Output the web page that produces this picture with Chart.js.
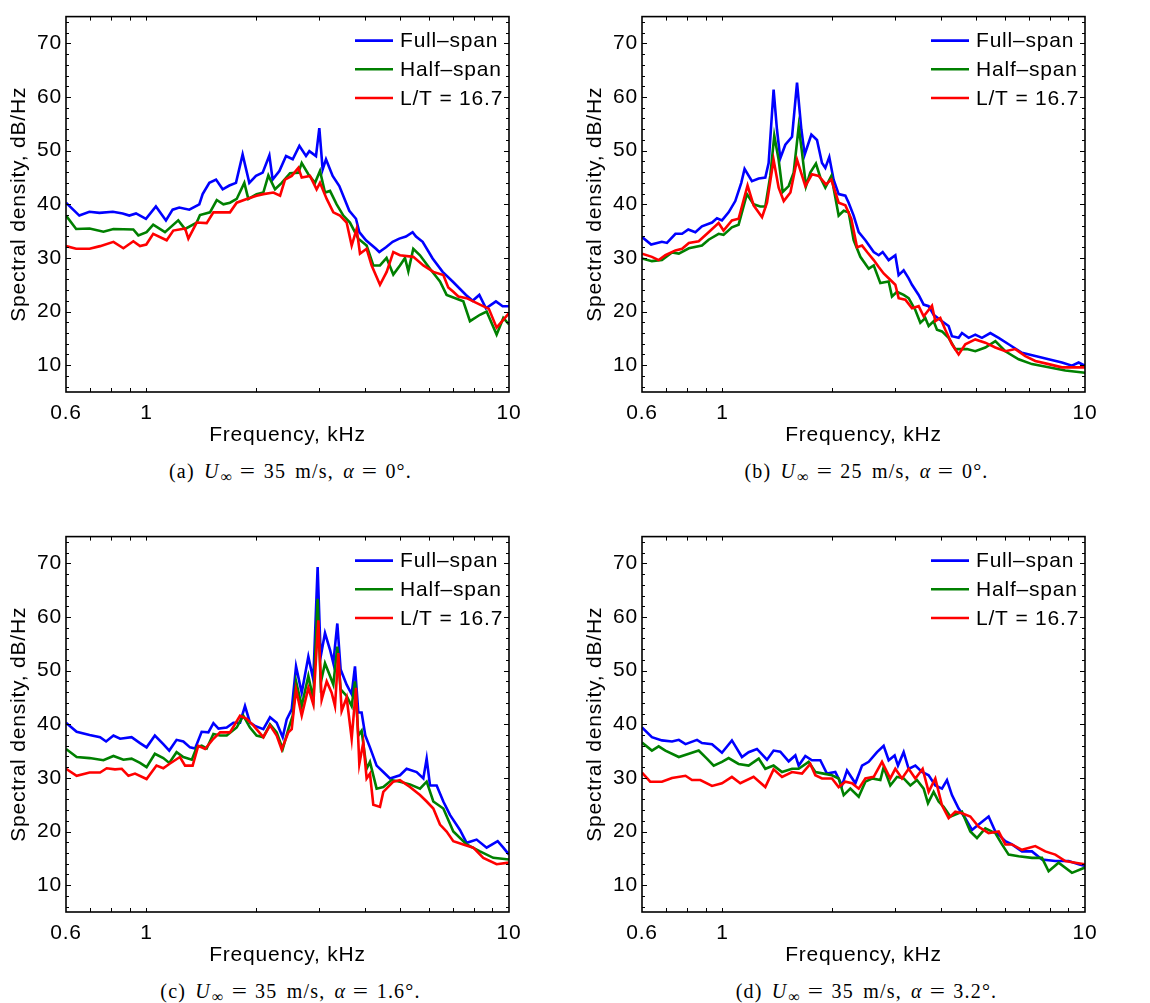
<!DOCTYPE html>
<html>
<head>
<meta charset="utf-8">
<script src="https://cdn.jsdelivr.net/npm/chart.js@4.4.1/dist/chart.umd.min.js"></script>
<style>
    body { margin: 0; background: #fff; width: 1150px; height: 1003px; position: relative; overflow: hidden; }
    canvas { position: absolute; }
    .cap { position: absolute; width: 443px; text-align: center; font: 20px "Liberation Serif", serif; line-height: 24px; color: #000; white-space: nowrap; letter-spacing: 1.2px; word-spacing: 3px; }
    .cap sub { font-size: 16px; line-height: 0; vertical-align: -4px; margin-left: 1px; }
    .cap .eq { margin: 0 9px; display: inline-block; transform: scaleX(1.35); }
</style>
</head>
<body>
<canvas id="panelA" width="575" height="455" style="left:0;top:0"></canvas>
<canvas id="panelB" width="575" height="455" style="left:576px;top:0"></canvas>
<canvas id="panelC" width="575" height="455" style="left:0;top:520px"></canvas>
<canvas id="panelD" width="575" height="455" style="left:576px;top:520px"></canvas>
<div class="cap" style="left:69px;top:459px">(a) <i>U</i><sub>∞</sub><span class="eq">=</span>35 m/s, <i>α</i><span class="eq">=</span>0°.</div>
<div class="cap" style="left:645px;top:459px">(b) <i>U</i><sub>∞</sub><span class="eq">=</span>25 m/s, <i>α</i><span class="eq">=</span>0°.</div>
<div class="cap" style="left:69px;top:979px">(c) <i>U</i><sub>∞</sub><span class="eq">=</span>35 m/s, <i>α</i><span class="eq">=</span>1.6°.</div>
<div class="cap" style="left:645px;top:979px">(d) <i>U</i><sub>∞</sub><span class="eq">=</span>35 m/s, <i>α</i><span class="eq">=</span>3.2°.</div>
<script>
const seriesNames = ["Full–span", "Half–span", "L/T = 16.7"];
const freqTickLabels = [0.6, 1, 10];
const freqMarks = [0.7, 0.8, 0.9, 1, 2, 3, 4, 5, 6, 7, 8, 9];
const dbTickLabels = [10, 20, 30, 40, 50, 60, 70];

// [frequency kHz, spectral density dB/Hz]
// (a) U = 35 m/s, alpha = 0
const fullA = [[0.6,40.3],[0.653,37.9],[0.696,38.6],[0.742,38.4],[0.808,38.6],[0.86,38.3],[0.897,37.9],[0.936,38.3],[0.997,37.3],[1.062,39.6],[1.132,37.0],[1.181,39.0],[1.232,39.4],[1.313,39.0],[1.399,40.0],[1.429,41.9],[1.491,44.0],[1.556,44.6],[1.623,42.8],[1.693,43.5],[1.766,44.0],[1.842,49.3],[1.922,44.0],[2.005,45.3],[2.092,45.9],[2.183,49.1],[2.229,44.6],[2.326,46.2],[2.427,49.0],[2.532,48.4],[2.641,50.9],[2.755,49.0],[2.814,49.9],[2.935,49.0],[2.998,54.2],[3.062,46.5],[3.128,48.4],[3.263,45.3],[3.404,43.4],[3.627,38.8],[3.784,37.3],[3.865,34.8],[4.032,33.3],[4.296,31.7],[4.388,31.1],[4.578,32.0],[4.776,33.0],[4.982,33.6],[5.197,34.0],[5.422,34.8],[5.54,34.0],[5.779,33.0],[6.157,29.9],[6.561,27.4],[6.991,25.6],[7.609,23.1],[7.937,22.0],[8.281,23.1],[8.639,20.6],[9.205,21.9],[9.604,21.0],[10,21.0]];
const halfA = [[0.6,37.9],[0.64,35.4],[0.697,35.5],[0.761,34.9],[0.811,35.4],[0.92,35.3],[0.95,34.2],[1.001,34.8],[1.044,36.2],[1.125,34.8],[1.224,37.0],[1.278,35.4],[1.376,36.6],[1.405,38.0],[1.497,38.5],[1.563,40.8],[1.63,40.0],[1.7,40.3],[1.774,41.0],[1.862,44.0],[1.91,41.0],[2.013,41.9],[2.101,42.2],[2.169,45.4],[2.263,42.8],[2.361,44.0],[2.489,45.8],[2.624,45.9],[2.681,47.7],[2.796,45.6],[2.917,44.0],[3.011,46.2],[3.108,42.2],[3.209,42.5],[3.347,40.0],[3.492,37.9],[3.642,36.6],[3.841,33.6],[4.049,32.3],[4.224,28.6],[4.407,28.6],[4.595,30.0],[4.796,26.9],[5.003,28.6],[5.165,30.0],[5.276,27.5],[5.445,31.7],[5.682,30.5],[6.055,28.0],[6.451,25.6],[6.729,23.1],[7.481,21.9],[7.804,18.2],[8.316,19.4],[8.676,20.0],[9.244,15.7],[9.645,18.8],[10,17.6]];
const ltA = [[0.6,32.2],[0.64,31.7],[0.697,31.7],[0.745,32.2],[0.811,33.0],[0.864,31.8],[0.92,33.1],[0.96,32.2],[0.999,32.5],[1.044,34.5],[1.137,33.3],[1.186,35.1],[1.278,35.5],[1.305,33.6],[1.376,36.6],[1.466,36.5],[1.53,38.5],[1.596,38.5],[1.7,38.5],[1.774,40.3],[1.89,41.0],[2.013,41.6],[2.101,41.9],[2.239,42.2],[2.337,41.6],[2.411,44.6],[2.516,45.3],[2.624,46.8],[2.681,45.0],[2.826,45.3],[2.947,42.8],[3.011,44.0],[3.142,41.0],[3.277,38.5],[3.419,37.9],[3.566,36.6],[3.682,32.3],[3.8,35.4],[3.882,30.8],[4.049,31.7],[4.18,28.6],[4.407,25.0],[4.598,27.4],[4.796,31.1],[5.003,30.5],[5.445,30.2],[5.804,28.6],[6.184,27.4],[6.59,26.8],[6.8,24.5],[7.021,23.7],[7.25,22.8],[7.641,22.5],[8.316,21.3],[8.8,20.5],[9.244,17.0],[10,19.7]];

// (b) U = 25 m/s, alpha = 0
const fullB = [[0.6,33.9],[0.636,32.5],[0.681,33.0],[0.703,32.8],[0.742,34.5],[0.774,34.5],[0.805,35.3],[0.842,34.8],[0.878,35.9],[0.936,36.6],[0.966,37.4],[0.997,37.0],[1.04,38.5],[1.085,40.6],[1.127,44.0],[1.151,46.6],[1.206,44.3],[1.259,44.8],[1.313,45.0],[1.341,47.7],[1.384,61.4],[1.414,53.9],[1.444,48.6],[1.491,51.1],[1.556,52.6],[1.606,62.7],[1.651,53.9],[1.686,49.3],[1.759,53.0],[1.823,52.0],[1.882,47.7],[1.922,46.8],[1.971,48.8],[2.026,44.6],[2.092,41.9],[2.183,41.6],[2.229,40.3],[2.301,37.9],[2.376,34.8],[2.479,33.3],[2.614,31.1],[2.698,30.5],[2.767,31.1],[2.874,29.6],[2.998,30.5],[3.062,26.8],[3.161,27.7],[3.263,26.2],[3.333,25.0],[3.477,23.1],[3.589,21.3],[3.705,21.0],[3.824,19.4],[4.032,18.2],[4.206,17.3],[4.296,15.4],[4.482,15.1],[4.578,16.0],[4.776,15.1],[4.982,15.7],[5.197,15.1],[5.481,16.0],[5.779,15.1],[6.157,13.9],[6.701,12.3],[7.293,11.7],[7.937,11.1],[8.639,10.5],[9.205,9.9],[9.604,10.5],[10,9.9]];
const halfB = [[0.6,29.9],[0.639,29.4],[0.681,29.6],[0.726,31.0],[0.758,30.8],[0.808,31.8],[0.878,32.3],[0.916,33.4],[0.976,34.5],[1.007,34.3],[1.062,35.7],[1.108,36.2],[1.168,41.9],[1.219,40.0],[1.272,39.6],[1.313,39.6],[1.355,45.3],[1.39,52.8],[1.429,48.3],[1.466,42.3],[1.523,43.4],[1.572,45.9],[1.623,54.5],[1.658,49.6],[1.7,43.4],[1.747,45.9],[1.811,47.6],[1.862,45.0],[1.922,43.1],[1.997,45.3],[2.092,37.9],[2.16,38.8],[2.229,38.5],[2.301,33.3],[2.401,30.2],[2.532,28.0],[2.614,28.6],[2.726,25.3],[2.874,25.6],[2.935,22.8],[3.03,23.7],[3.161,23.1],[3.263,22.5],[3.404,20.3],[3.514,17.9],[3.627,18.8],[3.705,17.3],[3.824,18.2],[3.906,16.6],[4.032,16.3],[4.206,15.1],[4.388,13.0],[4.726,13.0],[4.982,12.6],[5.309,13.3],[5.658,14.5],[6.029,12.6],[6.561,11.1],[7.14,10.2],[7.937,9.6],[8.823,9.0],[10,8.6]];
const ltB = [[0.6,30.8],[0.639,30.2],[0.667,29.6],[0.696,30.5],[0.742,31.4],[0.774,31.7],[0.808,32.8],[0.86,33.1],[0.916,34.8],[0.976,36.5],[1.007,35.1],[1.062,37.0],[1.108,37.3],[1.173,43.5],[1.219,39.8],[1.286,37.6],[1.327,40.3],[1.384,48.3],[1.429,43.1],[1.476,40.6],[1.54,42.2],[1.606,48.3],[1.693,43.4],[1.766,45.6],[1.842,45.3],[1.93,43.7],[1.997,44.6],[2.092,40.3],[2.183,39.8],[2.267,37.3],[2.351,32.0],[2.427,32.3],[2.506,31.1],[2.614,29.6],[2.698,28.3],[2.784,27.1],[2.874,26.2],[2.998,25.0],[3.062,22.5],[3.195,22.2],[3.333,20.6],[3.477,21.0],[3.589,19.1],[3.784,21.1],[3.865,18.2],[3.989,18.8],[4.118,16.6],[4.296,13.9],[4.482,12.0],[4.676,13.9],[4.982,14.8],[5.309,14.2],[5.658,13.3],[6.029,12.6],[6.424,13.0],[6.845,11.7],[7.293,10.8],[7.937,10.2],[8.639,9.6],[9.403,9.6],[10,9.6]];

// (c) U = 35 m/s, alpha = 1.6
const fullC = [[0.6,40.3],[0.642,38.6],[0.697,38.0],[0.745,37.6],[0.774,36.8],[0.811,37.9],[0.846,37.3],[0.91,37.6],[0.96,36.5],[1.001,35.7],[1.055,37.9],[1.113,36.3],[1.156,35.1],[1.211,37.1],[1.264,36.8],[1.319,35.7],[1.362,35.5],[1.42,38.6],[1.482,38.5],[1.53,40.2],[1.58,39.2],[1.665,39.4],[1.737,40.3],[1.812,40.3],[1.87,43.4],[1.93,40.3],[1.992,39.7],[2.101,39.1],[2.192,41.3],[2.287,40.3],[2.376,37.6],[2.437,40.9],[2.516,42.8],[2.586,50.8],[2.681,45.9],[2.796,52.6],[2.886,48.3],[2.966,69.3],[3.024,52.6],[3.108,57.0],[3.209,53.9],[3.277,51.4],[3.361,58.8],[3.433,50.2],[3.566,47.4],[3.682,45.6],[3.76,50.8],[3.841,42.2],[3.922,42.2],[4.015,37.9],[4.135,35.7],[4.314,32.3],[4.501,31.1],[4.696,29.9],[5.003,30.5],[5.219,31.7],[5.563,31.1],[5.804,29.9],[5.928,33.6],[6.055,28.6],[6.316,28.6],[6.59,25.6],[6.874,23.1],[7.324,20.3],[7.641,17.9],[8.141,18.5],[8.676,17.0],[9.306,18.2],[9.645,17.0],[10,15.7]];
const halfC = [[0.6,35.4],[0.642,33.9],[0.697,33.7],[0.761,33.3],[0.811,34.1],[0.864,33.4],[0.91,33.6],[0.96,32.8],[1.001,32.0],[1.055,34.5],[1.113,33.7],[1.156,32.8],[1.211,34.8],[1.264,33.9],[1.334,33.4],[1.376,35.7],[1.42,36.0],[1.466,35.5],[1.53,38.2],[1.596,37.9],[1.665,37.9],[1.774,39.4],[1.85,41.6],[1.93,39.4],[2.013,37.9],[2.101,37.6],[2.192,40.0],[2.287,38.5],[2.376,35.4],[2.463,39.1],[2.532,41.6],[2.586,48.0],[2.681,43.4],[2.796,49.0],[2.886,44.6],[2.966,63.4],[3.024,47.7],[3.108,51.4],[3.209,49.0],[3.277,47.4],[3.361,54.5],[3.433,46.5],[3.566,45.3],[3.682,43.4],[3.76,48.0],[3.841,37.9],[3.922,38.8],[4.049,31.7],[4.135,33.0],[4.314,28.0],[4.501,28.3],[4.746,29.6],[5.003,29.3],[5.331,28.8],[5.682,28.0],[5.928,29.3],[6.184,25.6],[6.59,24.3],[7.021,20.0],[7.641,17.6],[8.316,16.3],[9.05,15.1],[10,14.8]];
const ltC = [[0.6,31.7],[0.642,30.4],[0.697,31.0],[0.745,31.0],[0.777,31.8],[0.819,31.6],[0.855,31.7],[0.892,30.4],[0.93,30.8],[1.001,29.8],[1.066,32.3],[1.113,31.8],[1.156,32.6],[1.237,33.9],[1.278,32.3],[1.341,32.3],[1.39,36.0],[1.451,35.4],[1.53,37.3],[1.596,38.5],[1.7,38.5],[1.812,41.6],[1.89,41.0],[1.971,39.8],[2.101,37.6],[2.192,39.8],[2.287,37.9],[2.361,35.3],[2.463,38.5],[2.516,39.1],[2.586,46.5],[2.681,41.6],[2.796,46.8],[2.886,43.7],[2.979,59.4],[3.043,44.6],[3.142,48.0],[3.242,45.9],[3.312,43.4],[3.383,53.3],[3.455,42.5],[3.566,45.0],[3.682,37.3],[3.784,46.8],[3.865,32.6],[3.964,36.6],[4.049,29.9],[4.135,30.8],[4.224,25.0],[4.407,24.6],[4.501,27.4],[4.796,29.3],[5.003,29.6],[5.331,28.3],[5.682,26.8],[5.928,25.6],[6.184,24.3],[6.451,21.3],[6.729,20.0],[7.021,18.2],[7.481,17.6],[7.971,17.0],[8.494,15.1],[9.244,13.9],[10,14.2]];

// (d) U = 35 m/s, alpha = 3.2
const fullD = [[0.6,39.4],[0.639,37.6],[0.681,37.0],[0.726,36.8],[0.758,37.1],[0.791,36.3],[0.851,37.1],[0.878,36.5],[0.936,36.3],[0.997,34.7],[1.062,37.0],[1.132,33.9],[1.181,34.8],[1.245,35.4],[1.327,33.4],[1.384,35.1],[1.444,34.9],[1.523,33.1],[1.589,34.2],[1.623,32.3],[1.693,34.1],[1.766,33.3],[1.862,33.3],[1.942,30.8],[2.048,31.1],[2.137,28.6],[2.206,31.4],[2.326,29.0],[2.427,32.3],[2.532,33.0],[2.669,34.8],[2.784,36.0],[2.874,33.3],[2.985,34.2],[3.049,32.3],[3.161,34.8],[3.263,31.7],[3.404,32.3],[3.551,31.1],[3.705,30.5],[3.865,28.6],[4.032,28.0],[4.162,29.6],[4.296,26.8],[4.482,24.3],[4.676,22.5],[4.878,20.3],[5.089,21.3],[5.422,22.8],[5.658,20.0],[6.029,18.2],[6.289,17.6],[6.701,16.3],[7.14,16.3],[7.609,14.8],[8.281,14.5],[9.012,14.5],[9.604,13.9],[10,13.6]];
const halfD = [[0.6,36.6],[0.639,35.1],[0.667,35.9],[0.696,35.1],[0.758,33.9],[0.808,34.5],[0.86,35.1],[0.906,33.6],[0.946,32.3],[0.997,33.0],[1.04,33.7],[1.108,32.6],[1.181,32.3],[1.259,33.6],[1.313,31.7],[1.384,32.3],[1.46,31.1],[1.556,31.7],[1.623,31.7],[1.729,33.0],[1.804,31.1],[1.902,30.8],[2.005,30.5],[2.092,29.9],[2.16,26.8],[2.253,28.0],[2.376,26.5],[2.479,29.3],[2.586,29.9],[2.726,29.6],[2.784,32.0],[2.904,28.6],[3.03,30.2],[3.161,29.9],[3.298,28.6],[3.44,29.6],[3.589,28.0],[3.689,25.3],[3.824,27.4],[3.947,25.6],[4.075,24.6],[4.251,22.8],[4.578,23.7],[4.827,20.0],[5.035,18.8],[5.309,20.6],[5.658,19.7],[5.903,17.6],[6.157,15.7],[6.561,15.4],[7.14,15.1],[7.609,15.1],[7.937,12.6],[8.458,14.2],[9.205,12.3],[10,13.3]];
const ltD = [[0.6,31.0],[0.632,29.3],[0.681,29.3],[0.726,30.0],[0.791,30.4],[0.824,29.6],[0.869,29.6],[0.936,28.5],[0.997,29.0],[1.062,30.2],[1.12,29.0],[1.219,30.2],[1.313,28.3],[1.384,31.6],[1.46,30.2],[1.556,31.1],[1.658,30.8],[1.747,32.6],[1.804,30.5],[1.882,29.9],[2.005,29.9],[2.092,28.3],[2.183,29.3],[2.277,29.0],[2.376,28.0],[2.479,29.9],[2.614,30.2],[2.755,33.0],[2.904,29.9],[2.998,31.7],[3.128,29.9],[3.263,31.7],[3.404,29.9],[3.566,31.7],[3.705,27.4],[3.865,29.9],[4.032,24.9],[4.206,22.5],[4.388,23.7],[4.578,23.4],[4.827,22.8],[5.089,20.9],[5.422,19.7],[5.779,20.0],[6.029,17.6],[6.289,17.6],[6.701,16.6],[7.293,17.3],[7.771,16.3],[8.281,15.7],[8.823,14.5],[9.403,14.2],[10,13.9]];

const axisFont = { family: "'Liberation Sans', Arial, sans-serif", size: 21 };

const framePlugin = {
    id: "frame",
    beforeDraw(chart) {
        chart.ctx.letterSpacing = "0.8px";
    },
    afterDraw(chart) {
        const { ctx, chartArea: a, scales } = chart;
        const x = scales.x, y = scales.y;
        ctx.save();
        ctx.strokeStyle = "#000";
        ctx.lineWidth = 1;
        ctx.beginPath();
        freqMarks.forEach(v => {
            const px = Math.round(x.getPixelForValue(v)) + 0.5;
            ctx.moveTo(px, a.bottom); ctx.lineTo(px, a.bottom - 4);
            ctx.moveTo(px, a.top); ctx.lineTo(px, a.top + 4);
        });
        for (let v = 6; v < 75; v += 2) {
            const py = Math.round(y.getPixelForValue(v)) + 0.5;
            const len = v % 10 === 0 ? 5 : 3;
            ctx.moveTo(a.left, py); ctx.lineTo(a.left + len, py);
            ctx.moveTo(a.right, py); ctx.lineTo(a.right - len, py);
        }
        ctx.stroke();
        ctx.lineWidth = 1.6;
        ctx.strokeRect(a.left, a.top, a.right - a.left, a.bottom - a.top);

        // legend, inside the top right corner
        ctx.font = `${axisFont.size}px ${axisFont.family}`;
        ctx.fillStyle = "#000";
        ctx.textAlign = "left";
        ctx.textBaseline = "middle";
        chart.data.datasets.forEach((ds, i) => {
            const ly = a.top + 24 + i * 28.7;
            ctx.strokeStyle = ds.borderColor;
            ctx.lineWidth = 2.6;
            ctx.beginPath();
            ctx.moveTo(a.right - 154, ly);
            ctx.lineTo(a.right - 116, ly);
            ctx.stroke();
            ctx.fillText(ds.label, a.right - 109, ly + 1);
        });
        ctx.restore();
    }
};

function toPoints(pairs) {
    return pairs.map(p => ({ x: p[0], y: p[1] }));
}

function makePanel(id, full, half, lt) {
    const colors = ["#0000ff", "#008000", "#ff0000"];
    const series = [full, half, lt];
    new Chart(document.getElementById(id), {
        type: "line",
        data: {
            datasets: series.map((s, i) => ({
                label: seriesNames[i],
                data: toPoints(s),
                borderColor: colors[i],
                borderWidth: 2.6,
                pointRadius: 0,
                tension: 0,
                fill: false,
                order: 3 - i
            }))
        },
        options: {
            responsive: false,
            maintainAspectRatio: false,
            animation: false,
            devicePixelRatio: 1,
            layout: { padding: { top: 13, right: 66, left: 0, bottom: 0 } },
            plugins: { legend: { display: false }, tooltip: { enabled: false } },
            scales: {
                x: {
                    type: "logarithmic",
                    min: 0.6,
                    max: 10,
                    grid: { display: false, drawTicks: false },
                    border: { display: false },
                    afterBuildTicks: s => { s.ticks = freqTickLabels.map(v => ({ value: v })); },
                    afterFit: s => { s.height = 63; },
                    ticks: {
                        color: "#000", font: axisFont, padding: 9,
                        autoSkip: false, maxRotation: 0,
                        callback: v => String(v)
                    },
                    title: {
                        display: true, text: "Frequency, kHz", color: "#000", font: axisFont,
                        padding: { top: 0, bottom: 7 }
                    }
                },
                y: {
                    min: 5,
                    max: 75,
                    grid: { display: false, drawTicks: false },
                    border: { display: false },
                    afterBuildTicks: s => { s.ticks = dbTickLabels.map(v => ({ value: v })); },
                    afterFit: s => { s.width = 66; },
                    ticks: { color: "#000", font: axisFont, padding: 4 },
                    title: {
                        display: true, text: "Spectral density, dB/Hz", color: "#000", font: axisFont,
                        padding: { top: 7, bottom: 0 }
                    }
                }
            }
        },
        plugins: [framePlugin]
    });
}

makePanel("panelA", fullA, halfA, ltA);
makePanel("panelB", fullB, halfB, ltB);
makePanel("panelC", fullC, halfC, ltC);
makePanel("panelD", fullD, halfD, ltD);
</script>
</body>
</html>
